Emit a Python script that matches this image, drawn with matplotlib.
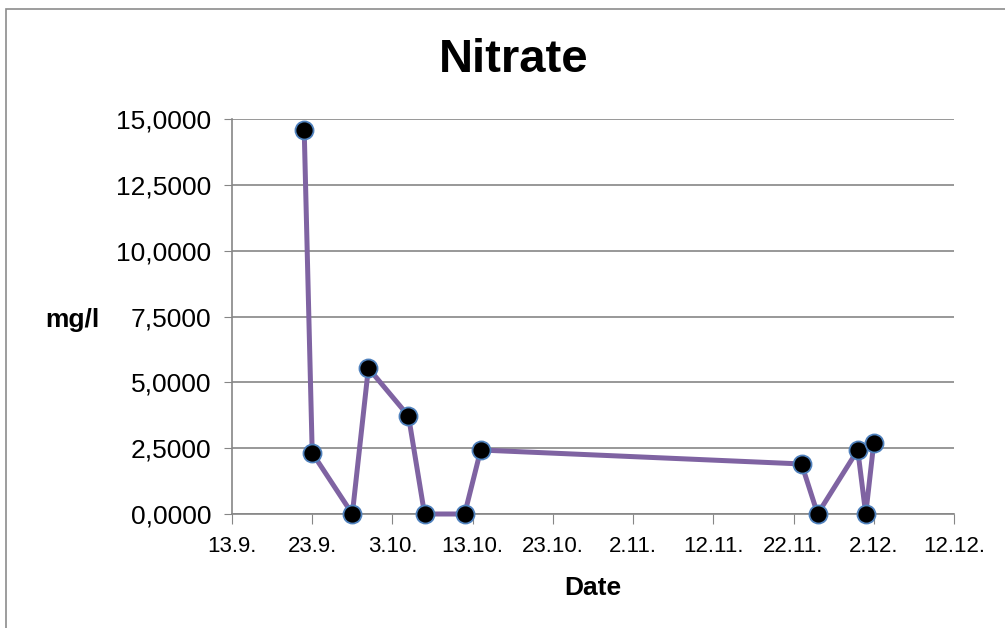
import matplotlib
matplotlib.use("Agg")
import matplotlib.pyplot as plt
import matplotlib.dates as mdates
import pandas as pd
from matplotlib.patches import Rectangle

plt.rcParams['font.family'] = ['Liberation Sans', 'DejaVu Sans']

dates = ["2013-09-22", "2013-09-23", "2013-09-28", "2013-09-30", "2013-10-05",
         "2013-10-07", "2013-10-12", "2013-10-14", "2013-11-23", "2013-11-25",
         "2013-11-30", "2013-12-01", "2013-12-02"]
nitrate = [14.58, 2.32, 0.0, 5.54, 3.72, 0.0, 0.0, 2.43, 1.9, 0.0, 2.43, 0.0, 2.7]
tick_dates = pd.date_range("2013-09-13", "2013-12-12", freq="10D")

x = pd.to_datetime(dates)

fig = plt.figure(figsize=(10.05, 6.28), dpi=100)
# outer chart frame (only left/top edges visible in the original)
fig.patches.append(Rectangle((6 / 1005, -0.1), 1.2, 1.1 - 9 / 628, transform=fig.transFigure,
                             fill=False, edgecolor="#8c8c8c", linewidth=1.2))
ax = fig.add_axes([232 / 1005, 1 - 514 / 628, (954 - 232) / 1005, (514 - 119) / 628])

ax.plot(x, nitrate, color="#7f63a2", linewidth=3.6, marker="o", markersize=13,
        markerfacecolor="black", markeredgecolor="#4f81bd", markeredgewidth=1.3,
        clip_on=False, zorder=3)

ax.set_xlim(tick_dates[0], tick_dates[-1])
ax.set_ylim(0, 15)
ax.set_yticks([0, 2.5, 5, 7.5, 10, 12.5, 15])
ax.set_yticklabels([f"{v:.4f}".replace(".", ",") for v in ax.get_yticks()], fontsize=19)
ax.set_xticks(tick_dates)
ax.xaxis.set_major_formatter(mdates.DateFormatter("%-d.%-m."))
ax.tick_params(axis="x", labelsize=16, direction="out", length=7, color="#868686", pad=9)
ax.tick_params(axis="y", direction="out", length=6, color="#868686", pad=9)

ax.grid(axis="y", color="#868686", linewidth=1.2)
ax.set_axisbelow(True)
for side in ["top", "right"]:
    ax.spines[side].set_visible(False)
for side in ["left", "bottom"]:
    ax.spines[side].set_color("#868686")
    ax.spines[side].set_linewidth(1.2)

fig.text(514 / 1005, 1 - 60 / 628, "Nitrate", fontsize=34, fontweight="bold", ha="center", va="center")
fig.text(72 / 1005, 1 - 320 / 628, "mg/l", fontsize=19, fontweight="bold", ha="center", va="center")
fig.text(593 / 1005, 1 - 588 / 628, "Date", fontsize=19, fontweight="bold", ha="center", va="center")

fig.savefig("out.png", dpi=100)
